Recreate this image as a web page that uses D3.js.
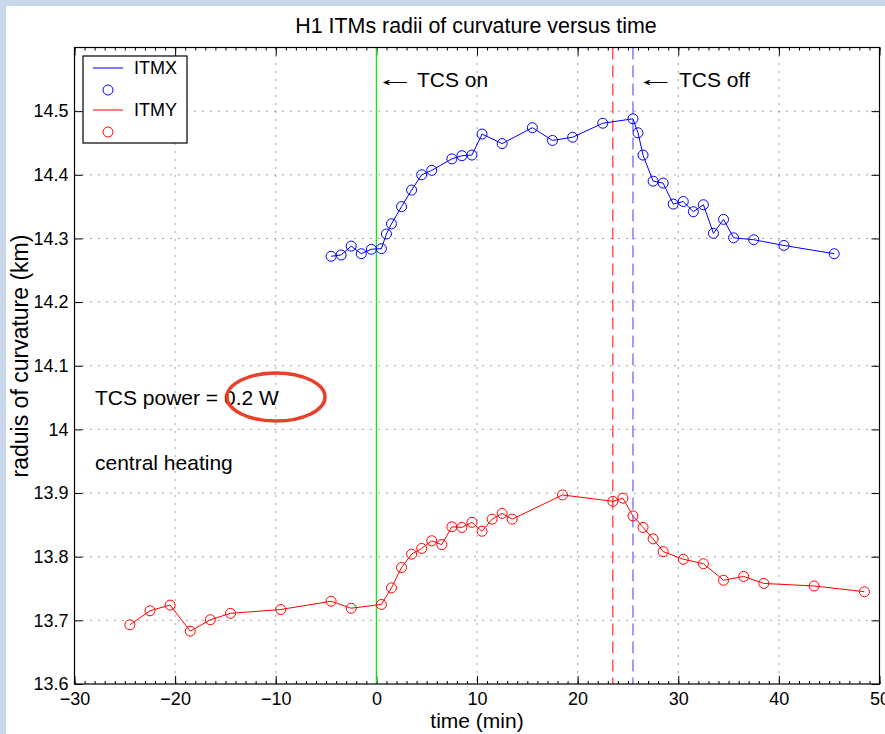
<!DOCTYPE html>
<html>
<head>
<meta charset="utf-8">
<script src="https://cdn.jsdelivr.net/npm/d3@7"></script>
<style>
  html, body { margin: 0; padding: 0; background: #c8d8ea; }
  svg { display: block; }
  text { font-family: "Liberation Sans", Arial, Helvetica, sans-serif; fill: #000; }
</style>
</head>
<body>
<svg id="chart" width="885" height="734"></svg>
<script>
// Time axis (minutes relative to TCS switch-on) and radius values (km)
const itmxTime = [-4.5, -3.5, -2.5, -1.5, -0.5, 0.5, 1, 1.5, 2.5, 3.5, 4.5, 5.5, 7.5, 8.5, 9.5,
  10.5, 12.5, 15.5, 17.5, 19.5, 22.5, 25.5, 26, 26.5, 27.5, 28.5, 29.5, 30.5, 31.5, 32.5,
  33.5, 34.5, 35.5, 37.5, 40.5, 45.5];
const itmxRadius = [14.272, 14.274, 14.288, 14.276, 14.283, 14.284, 14.307, 14.323, 14.350,
  14.376, 14.400, 14.407, 14.425, 14.430, 14.431, 14.464, 14.449, 14.474, 14.454, 14.459,
  14.481, 14.488, 14.466, 14.431, 14.390, 14.387, 14.354, 14.358, 14.342, 14.353, 14.308,
  14.330, 14.301, 14.298, 14.289, 14.276];

const itmyTime = [-24.5, -22.5, -20.5, -18.5, -16.5, -14.5, -9.5, -4.5, -2.5, 0.5, 1.5, 2.5,
  3.5, 4.5, 5.5, 6.5, 7.5, 8.5, 9.5, 10.5, 11.5, 12.5, 13.5, 18.5, 23.5, 24.5, 25.5, 26.5,
  27.5, 28.5, 30.5, 32.5, 34.5, 36.5, 38.5, 43.5, 48.5];
const itmyRadius = [13.693, 13.715, 13.724, 13.683, 13.701, 13.711, 13.717, 13.730, 13.719,
  13.725, 13.751, 13.783, 13.804, 13.813, 13.825, 13.819, 13.847, 13.846, 13.854, 13.840,
  13.859, 13.868, 13.859, 13.897, 13.887, 13.892, 13.864, 13.846, 13.828, 13.808, 13.796,
  13.789, 13.763, 13.769, 13.758, 13.754, 13.745];

// Event markers
const tcsOnTime = 0;
const tcsOffTimeY = 23.5;
const tcsOffTimeX = 25.5;

// Axis ticks
const xTicks = [-30, -20, -10, 0, 10, 20, 30, 40, 50];
const xTickLabels = ["\u221230", "\u221220", "\u221210", "0", "10", "20", "30", "40", "50"];
const yTicks = [13.6, 13.7, 13.8, 13.9, 14.0, 14.1, 14.2, 14.3, 14.4, 14.5];
const yTickLabels = ["13.6", "13.7", "13.8", "13.9", "14", "14.1", "14.2", "14.3", "14.4", "14.5"];
const xMinorTicks = d3.range(-30, 51, 1);

(function () {
const svg = d3.select("#chart");

// Figure background (white panel)
svg.append("rect").attr("x", 6).attr("y", 6).attr("width", 885).attr("height", 734).attr("fill", "#fff");

const pL = 74.5, pR = 879.5, pT = 47.5, pB = 684;
const x = d3.scaleLinear().domain([-30, 50]).range([pL, pR]);
const y = d3.scaleLinear().domain([13.6, 14.6]).range([pB, pT]);

const plot = svg.append("g");

// Dotted grid
const gridX = xTicks.slice(1, -1);
const gridY = yTicks.slice(1);
plot.append("g").selectAll("line").data(gridX).join("line")
  .attr("x1", d => x(d)).attr("x2", d => x(d))
  .attr("y1", pT).attr("y2", pB)
  .attr("stroke", "#444").attr("stroke-width", 1).attr("stroke-dasharray", "1,7");
plot.append("g").selectAll("line").data(gridY).join("line")
  .attr("x1", pL).attr("x2", pR)
  .attr("y1", d => y(d)).attr("y2", d => y(d))
  .attr("stroke", "#444").attr("stroke-width", 1).attr("stroke-dasharray", "1,7");

// Axes with inward ticks
const fmtX = d => xTickLabels[xTicks.indexOf(d)];
const fmtY = d => yTickLabels[yTicks.indexOf(d)];

const axB = plot.append("g").attr("transform", `translate(0,${pB})`)
  .call(d3.axisBottom(x).tickValues(xTicks).tickFormat(fmtX).tickSizeInner(-8).tickSizeOuter(0).tickPadding(8));
const axT = plot.append("g").attr("transform", `translate(0,${pT})`)
  .call(d3.axisTop(x).tickValues(xTicks).tickFormat("").tickSizeInner(-8).tickSizeOuter(0));
const axL = plot.append("g").attr("transform", `translate(${pL},0)`)
  .call(d3.axisLeft(y).tickValues(yTicks).tickFormat(fmtY).tickSizeInner(-8).tickSizeOuter(0).tickPadding(6));
const axR = plot.append("g").attr("transform", `translate(${pR},0)`)
  .call(d3.axisRight(y).tickValues(yTicks).tickFormat("").tickSizeInner(-8).tickSizeOuter(0));

// Minor ticks along the time axis
plot.append("g").attr("transform", `translate(0,${pB})`)
  .call(d3.axisBottom(x).tickValues(xMinorTicks).tickFormat("").tickSizeInner(-3).tickSizeOuter(0));
plot.append("g").attr("transform", `translate(0,${pT})`)
  .call(d3.axisTop(x).tickValues(xMinorTicks).tickFormat("").tickSizeInner(-3).tickSizeOuter(0));

[axB, axT, axL, axR].forEach(a => {
  a.selectAll("text").style("font-size", "18px").attr("fill", "#000")
    .style("font-family", "'Liberation Sans', Arial, sans-serif");
});
plot.selectAll(".domain").remove();
plot.selectAll(".tick line").attr("stroke", "#000");

// Event lines
plot.append("line").attr("x1", x(tcsOnTime)).attr("x2", x(tcsOnTime))
  .attr("y1", pT).attr("y2", pB).attr("stroke", "#00ee00").attr("stroke-width", 1.2);
plot.append("line").attr("x1", x(tcsOffTimeY)).attr("x2", x(tcsOffTimeY))
  .attr("y1", pT).attr("y2", pB).attr("stroke", "#ff3b3b").attr("stroke-width", 1.3)
  .attr("stroke-dasharray", "12,6");
plot.append("line").attr("x1", x(tcsOffTimeX)).attr("x2", x(tcsOffTimeX))
  .attr("y1", pT).attr("y2", pB).attr("stroke", "#6a6aff").attr("stroke-width", 1.3)
  .attr("stroke-dasharray", "12,6");

// Data series
function drawSeries(times, values, color) {
  const pts = times.map((t, i) => [t, values[i]]);
  const line = d3.line().x(d => x(d[0])).y(d => y(d[1]));
  plot.append("path").datum(pts).attr("d", line)
    .attr("fill", "none").attr("stroke", color).attr("stroke-width", 1);
  plot.append("g").selectAll("circle").data(pts).join("circle")
    .attr("cx", d => x(d[0])).attr("cy", d => y(d[1])).attr("r", 5)
    .attr("fill", "none").attr("stroke", color).attr("stroke-width", 1);
}
drawSeries(itmxTime, itmxRadius, "#0000ff");
drawSeries(itmyTime, itmyRadius, "#ff0000");

// Plot frame
plot.append("rect").attr("x", pL).attr("y", pT)
  .attr("width", pR - pL).attr("height", pB - pT)
  .attr("fill", "none").attr("stroke", "#000").attr("stroke-width", 1.2);

// Legend
const lg = svg.append("g");
lg.append("rect").attr("x", 83).attr("y", 56).attr("width", 104).attr("height", 87)
  .attr("fill", "#fff").attr("stroke", "#000").attr("stroke-width", 1.2);
const legendItems = [
  { name: "ITMX", color: "#0000ff", ly: 68 },
  { name: "ITMY", color: "#ff0000", ly: 110 }
];
legendItems.forEach(it => {
  lg.append("line").attr("x1", 93).attr("x2", 123).attr("y1", it.ly).attr("y2", it.ly)
    .attr("stroke", it.color).attr("stroke-width", 1);
  lg.append("text").attr("x", 134).attr("y", it.ly + 6).style("font-size", "18px").text(it.name);
  lg.append("circle").attr("cx", 108).attr("cy", it.ly + 22).attr("r", 5)
    .attr("fill", "none").attr("stroke", it.color).attr("stroke-width", 1);
});

// Annotations
svg.append("text").attr("x", 476).attr("y", 33).attr("text-anchor", "middle")
  .style("font-size", "21.4px").text("H1 ITMs radii of curvature versus time");
svg.append("text").attr("x", 477).attr("y", 728).attr("text-anchor", "middle")
  .style("font-size", "21px").text("time (min)");
svg.append("text").attr("transform", "translate(28,356) rotate(-90)").attr("text-anchor", "middle")
  .style("font-size", "23px").text("raduis of curvature (km)");

// Long leftward arrows next to the event labels
function arrow(ax) {
  svg.append("text").attr("transform", `translate(${ax},86) scale(1.9,1)`)
    .style("font-size", "21px").text("\u2190");
}
arrow(x(tcsOnTime) - 1);
arrow(x(tcsOffTimeX) + 3);
svg.append("text").attr("x", 417).attr("y", 87).style("font-size", "21px").text("TCS on");
svg.append("text").attr("x", 679).attr("y", 87).style("font-size", "21px").text("TCS off");

svg.append("text").attr("x", 95).attr("y", 405).style("font-size", "21px").text("TCS power = 0.2 W");
svg.append("text").attr("x", 95).attr("y", 470).style("font-size", "21px").text("central heating");

svg.append("ellipse").attr("cx", 276).attr("cy", 397).attr("rx", 49).attr("ry", 24)
  .attr("fill", "none").attr("stroke", "#e8402a").attr("stroke-width", 3.5);
})();
</script>
</body>
</html>
